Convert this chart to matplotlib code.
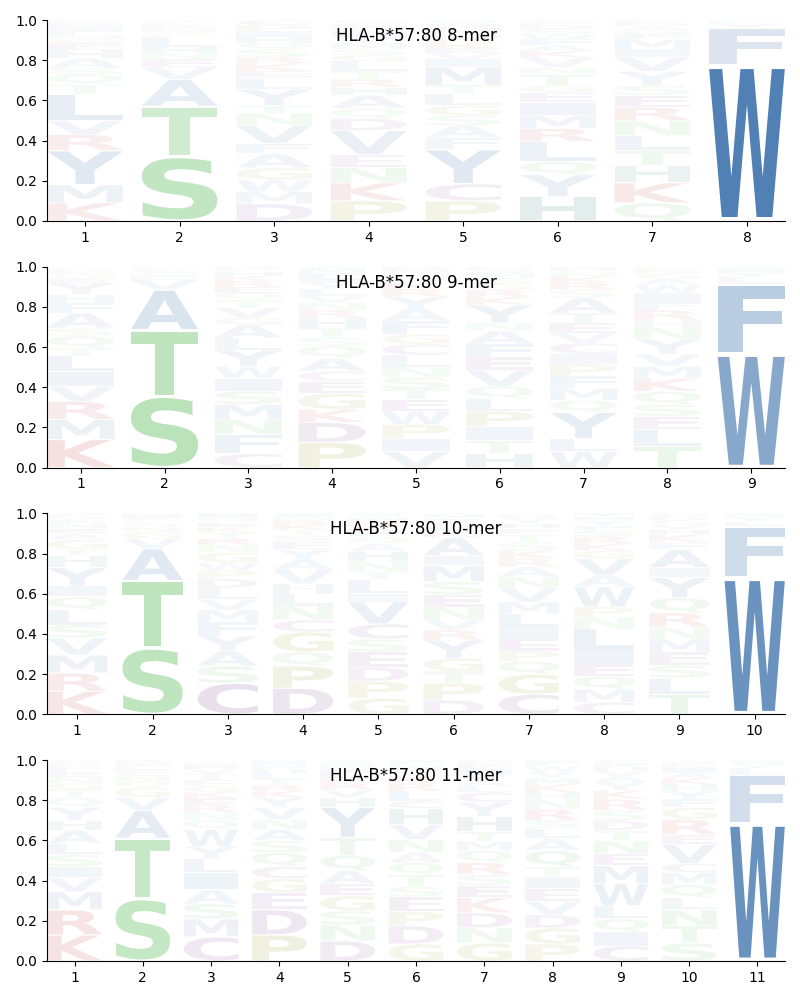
import matplotlib
matplotlib.use("Agg")
import matplotlib.pyplot as plt
from matplotlib.textpath import TextPath
from matplotlib.patches import PathPatch
from matplotlib.font_manager import FontProperties
from matplotlib.transforms import Affine2D

# letters of each column, bottom -> top, and their heights (probabilities)
MER8_LETTERS = [
    "KMYRVLTQSAHEGNFIDPCW", "STAVENHLGQCIMKRDPFYW", "DMWGAFVNTYLEKRSQHIPC",
    "PKNEVDQAHRTLGSMYIFCW", "PCYFASGLTMIVEKRNDHQW", "HYQLRMIEGTNVKAFWSDPC",
    "QKHTLNRESYVIMFGADPCW", "WFYLMIV",
]
MER8_VALUES = [
    [.09, .09, .17, .08, .07, .13, .05, .05, .03, .05, .04, .035, .02, .02, .02, .02, .015, .01, .005, .005],
    [.32, .25, .135, .06, .04, .03, .03, .05, .008, .008, .007, .007, .007, .007, .007, .007, .007, .007, .007, .006],
    [.085, .06, .06, .06, .07, .05, .09, .06, .04, .08, .06, .03, .04, .03, .04, .03, .03, .03, .03, .025],
    [.10, .09, .075, .065, .12, .06, .05, .065, .04, .04, .04, .05, .03, .03, .03, .03, .03, .02, .02, .015],
    [.10, .085, .17, .06, .06, .05, .05, .06, .04, .09, .04, .03, .025, .025, .02, .02, .02, .02, .02, .015],
    [.12, .11, .065, .10, .065, .065, .065, .05, .035, .055, .035, .05, .03, .03, .03, .025, .025, .02, .015, .01],
    [.09, .10, .085, .075, .075, .075, .065, .06, .05, .07, .07, .04, .05, .025, .02, .02, .015, .01, .005, .005],
    [.775, .185, .02, .008, .005, .004, .003],
]

MER9_LETTERS = [
    "KMRVILTQSAFHYEGNDPWC", "STAVLIGCQENM", "CFNMSIWYLAGVTQERKHPD",
    "PDKGECAQSTHRNVLYIFMW", "VIPWETSNLCGFAYRKQHMD", "HTIPLQVEFANYKRGSMWDC",
    "WLYQMFPICVETASRKNGHD", "TLESQKMVYNHRFIWAGDPC", "WFLYMIVHAC",
]
MER9_VALUES = [
    [.14, .10, .09, .075, .075, .075, .04, .06, .04, .075, .05, .04, .06, .02, .015, .015, .01, .01, .005, .005],
    [.355, .33, .20, .05, .015, .01, .01, .01, .005, .005, .005, .005],
    [.07, .095, .075, .075, .065, .065, .06, .08, .06, .065, .035, .05, .04, .035, .03, .03, .025, .02, .015, .01],
    [.125, .10, .065, .08, .06, .05, .065, .06, .04, .05, .05, .04, .035, .035, .035, .03, .025, .025, .02, .01],
    [.08, .065, .07, .065, .06, .05, .06, .05, .06, .055, .05, .065, .06, .06, .04, .03, .025, .02, .02, .015],
    [.07, .065, .07, .075, .065, .06, .08, .065, .065, .065, .04, .09, .04, .035, .03, .03, .025, .015, .01, .005],
    [.08, .065, .13, .06, .06, .06, .06, .05, .055, .05, .05, .05, .075, .04, .035, .03, .02, .015, .01, .005],
    [.105, .085, .065, .06, .065, .065, .06, .06, .075, .06, .035, .05, .04, .045, .04, .03, .025, .015, .015, .005],
    [.565, .35, .035, .02, .01, .008, .005, .003, .002, .002],
]

MER10_LETTERS = [
    "KRMVSLQIYHTGAENFDPWC", "STAVGNQCLEIMK", "CSAYFMVLDPWGNRTKEQHI",
    "DPQGCNLHVAYESTKRMFIW", "GPDESCVILTNHAQFKRMYW", "DPTGYRVNESMIAKLQFHCW",
    "CGQPEILMVNARKSTFHYDW", "CMQEILNPWAVGKRSFYHTD", "TLSEMNRQYIAFKHVGDPCW",
    "WFLYMIV",
]
MER10_VALUES = [
    [.115, .09, .09, .085, .065, .075, .065, .055, .09, .06, .03, .05, .03, .025, .025, .02, .015, .01, .005, .005],
    [.33, .335, .16, .05, .035, .02, .015, .015, .01, .01, .01, .005, .005],
    [.155, .085, .075, .075, .07, .06, .05, .06, .045, .04, .04, .05, .04, .03, .03, .025, .025, .025, .01, .01],
    [.13, .11, .07, .10, .06, .07, .06, .05, .07, .05, .05, .04, .03, .03, .025, .02, .015, .01, .005, .005],
    [.08, .085, .07, .075, .065, .075, .11, .04, .07, .04, .05, .05, .04, .035, .025, .025, .025, .02, .015, .005],
    [.07, .085, .06, .065, .09, .05, .05, .065, .06, .065, .08, .05, .09, .03, .025, .025, .02, .01, .005, .005],
    [.10, .10, .065, .05, .06, .06, .065, .06, .07, .055, .05, .04, .04, .04, .04, .03, .025, .025, .015, .005],
    [.06, .065, .065, .06, .075, .10, .06, .05, .10, .06, .08, .04, .035, .035, .03, .025, .025, .02, .01, .005],
    [.10, .08, .065, .065, .065, .06, .07, .075, .10, .05, .09, .035, .04, .025, .025, .02, .015, .01, .005, .005],
    [.68, .255, .025, .02, .01, .005, .005],
]

MER11_LETTERS = [
    "KRMVISLAHYQTGNEFDPWC", "STAVGQNCELIMKR", "CMSAILYWQNREKGFTVHDP",
    "PDEGCQSANVYKRTLHFMIW", "DNSGEAQTYHVRKLIFMPCW", "GDPESTQANVHCLRKYIMFW",
    "GNDKESRQMTHYCLAVIFPW", "PGDVEITQALSRNHKMYWFC", "CIQLWMENTDSRKYAVHFGP",
    "STNLQMCVERGFYHKAIDPW", "WFLYMIV",
]
MER11_VALUES = [
    [.13, .125, .09, .07, .055, .06, .055, .065, .05, .065, .05, .04, .03, .03, .025, .02, .015, .01, .01, .005],
    [.31, .30, .14, .065, .05, .03, .025, .02, .015, .015, .01, .01, .005, .005],
    [.12, .09, .075, .07, .085, .07, .06, .085, .045, .04, .04, .03, .03, .03, .03, .03, .025, .015, .01, .01],
    [.13, .125, .085, .07, .06, .07, .06, .055, .05, .06, .05, .03, .03, .03, .03, .02, .015, .015, .01, .005],
    [.10, .08, .07, .075, .06, .065, .075, .09, .15, .05, .04, .03, .025, .025, .02, .015, .01, .01, .005, .005],
    [.085, .09, .07, .075, .05, .06, .06, .05, .065, .075, .08, .035, .05, .04, .035, .025, .02, .015, .01, .01],
    [.09, .075, .075, .075, .06, .055, .06, .06, .045, .05, .075, .07, .05, .03, .03, .03, .025, .025, .015, .01],
    [.085, .08, .065, .065, .065, .06, .05, .08, .06, .05, .04, .055, .05, .035, .04, .03, .03, .03, .02, .01],
    [.075, .07, .065, .065, .11, .09, .06, .065, .05, .05, .05, .055, .045, .04, .03, .025, .02, .015, .01, .01],
    [.09, .085, .08, .06, .065, .06, .045, .095, .05, .075, .06, .04, .04, .035, .03, .025, .025, .015, .01, .01],
    [.685, .24, .035, .02, .01, .005, .005],
]

TITLES = ["HLA-B*57:80 8-mer", "HLA-B*57:80 9-mer", "HLA-B*57:80 10-mer", "HLA-B*57:80 11-mer"]

COLORS = {}
for aa in "AVLIMFWY":
    COLORS[aa] = "#4578af"
for aa in "STNQ":
    COLORS[aa] = "#46b546"
for aa in "KR":
    COLORS[aa] = "#c02828"
for aa in "DEC":
    COLORS[aa] = "#7a3a8c"
for aa in "PG":
    COLORS[aa] = "#8c8c10"
COLORS["H"] = "#1e6e6e"

FONT = FontProperties(family="DejaVu Sans", weight="bold")
WIDTH = 0.8
VPAD = 0.05
_glyphs = {}


def glyph(ch):
    if ch not in _glyphs:
        _glyphs[ch] = TextPath((0, 0), ch, size=1, prop=FONT)
    return _glyphs[ch]


def draw_letter(ax, ch, x, y0, h, alpha):
    path = glyph(ch)
    bb = path.get_extents()
    gh = h * (1 - VPAD)
    tr = (Affine2D().translate(-bb.x0, -bb.y0)
          .scale(WIDTH / bb.width, gh / bb.height)
          .translate(x - WIDTH / 2, y0 + h * VPAD / 2))
    ax.add_patch(PathPatch(tr.transform_path(path), facecolor=COLORS[ch],
                           edgecolor="none", alpha=alpha, lw=0))


def draw_logo(ax, letters, values, title):
    for i, (col, vals) in enumerate(zip(letters, values)):
        x = i + 1
        y = 0.0
        for ch, v in zip(col, vals):
            # stronger letters are more opaque
            a = min(1.0, 0.03 + 1.25 * v ** 1.25)
            draw_letter(ax, ch, x, y, v, a)
            y += v
    n = len(letters)
    ax.set_xlim(1 - WIDTH / 2, n + WIDTH / 2)
    ax.set_ylim(0, 1)
    ax.set_xticks(range(1, n + 1))
    ax.set_yticks([0, 0.2, 0.4, 0.6, 0.8, 1.0])
    ax.spines["top"].set_visible(False)
    ax.spines["right"].set_visible(False)
    ax.text(0.5, 0.92, title, transform=ax.transAxes, ha="center", va="center",
            fontsize=12, zorder=5)


fig, axes = plt.subplots(4, 1, figsize=(8, 10), dpi=100)
fig.subplots_adjust(left=0.059, right=0.981, top=0.98, bottom=0.039, hspace=0.228)

draw_logo(axes[0], MER8_LETTERS, MER8_VALUES, TITLES[0])
draw_logo(axes[1], MER9_LETTERS, MER9_VALUES, TITLES[1])
draw_logo(axes[2], MER10_LETTERS, MER10_VALUES, TITLES[2])
draw_logo(axes[3], MER11_LETTERS, MER11_VALUES, TITLES[3])

fig.savefig("out.png", dpi=100)
